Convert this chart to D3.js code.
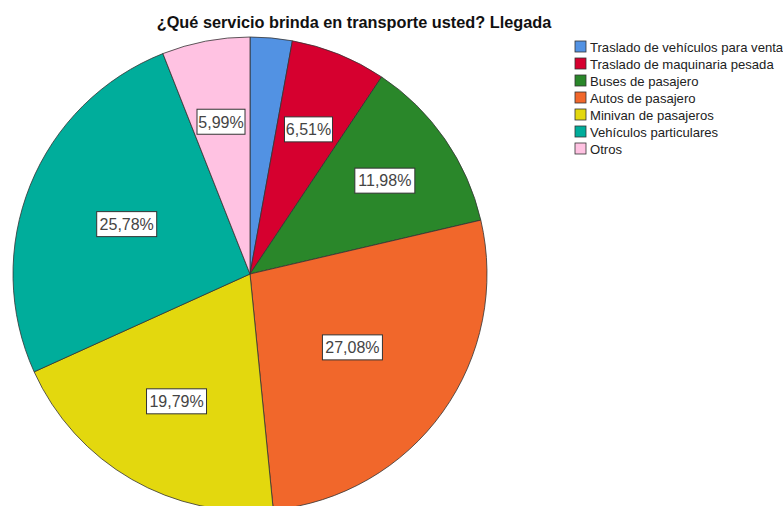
<!DOCTYPE html>
<html>
<head>
<meta charset="UTF-8">
<title>¿Qué servicio brinda en transporte usted? Llegada</title>
<script type="text/javascript" src="https://cdn.jsdelivr.net/npm/d3@7"></script>
<style>
  body { margin: 0; background: #fff; }
  text { font-family: "Liberation Sans", Arial, sans-serif; }
</style>
</head>
<body>
<script type="text/javascript">
  // categorías y porcentajes (n = 384)
  var categories = [
    "Traslado de vehículos para venta",
    "Traslado de maquinaria pesada",
    "Buses de pasajero",
    "Autos de pasajero",
    "Minivan de pasajeros",
    "Vehículos particulares",
    "Otros"
  ];
  var values = [2.86, 6.51, 11.98, 27.08, 19.79, 25.78, 5.99];
  var labels = ["", "6,51%", "11,98%", "27,08%", "19,79%", "25,78%", "5,99%"];
  var colors = ["#5292e3", "#d6002f", "#2a872a", "#f1672b", "#e3d80e", "#00ad9b", "#ffc2e2"];
  // distancia de cada etiqueta al centro (como la coloca SPSS)
  var labelRadius = [0, 156, 164, 126, 147, 133, 155];

  var w = 783, h = 506;
  var cx = 250, cy = 274, r = 237;

  var svg = d3.select("body").append("svg")
    .attr("width", w)
    .attr("height", h);

  svg.append("text")
    .attr("x", 354)
    .attr("y", 28)
    .attr("text-anchor", "middle")
    .attr("font-size", "16.3px")
    .attr("font-weight", "bold")
    .attr("fill", "#111")
    .text("¿Qué servicio brinda en transporte usted? Llegada");

  var pie = d3.pie().sort(null).value(function(d){ return d; });
  var arcs = pie(values);

  var arc = d3.arc().innerRadius(0).outerRadius(r);

  var g = svg.append("g").attr("transform", "translate(" + cx + "," + cy + ")");

  g.selectAll("path")
    .data(arcs)
    .enter()
    .append("path")
    .attr("d", arc)
    .attr("fill", function(d, i){ return colors[i]; })
    .attr("stroke", "#333")
    .attr("stroke-width", 0.8);

  var lab = g.selectAll("g.lab")
    .data(arcs.filter(function(d, i){ return labels[i] !== ""; }))
    .enter()
    .append("g")
    .attr("class", "lab")
    .attr("transform", function(d){
      var lr = labelRadius[d.index];
      return "translate(" + d3.arc().innerRadius(lr).outerRadius(lr).centroid(d) + ")";
    });

  lab.append("rect")
    .attr("x", function(d){ return labels[d.index].length > 5 ? -30 : -24; })
    .attr("y", -12.5)
    .attr("width", function(d){ return labels[d.index].length > 5 ? 60 : 48; })
    .attr("height", 25)
    .attr("fill", "#fff")
    .attr("stroke", "#333")
    .attr("stroke-width", 1);

  lab.append("text")
    .attr("text-anchor", "middle")
    .attr("dy", "0.36em")
    .attr("font-size", "16px")
    .attr("fill", "#444")
    .text(function(d){ return labels[d.index]; });

  // leyenda
  var legend = svg.selectAll("g.legend")
    .data(categories)
    .enter()
    .append("g")
    .attr("class", "legend")
    .attr("transform", function(d, i){ return "translate(575," + (41 + i * 17) + ")"; });

  legend.append("rect")
    .attr("width", 11)
    .attr("height", 11)
    .attr("fill", function(d, i){ return colors[i]; })
    .attr("stroke", "#333")
    .attr("stroke-width", 0.8);

  legend.append("text")
    .attr("x", 15)
    .attr("y", 10.5)
    .attr("font-size", "13.1px")
    .attr("fill", "#222")
    .text(function(d){ return d; });
</script>
</body>
</html>
